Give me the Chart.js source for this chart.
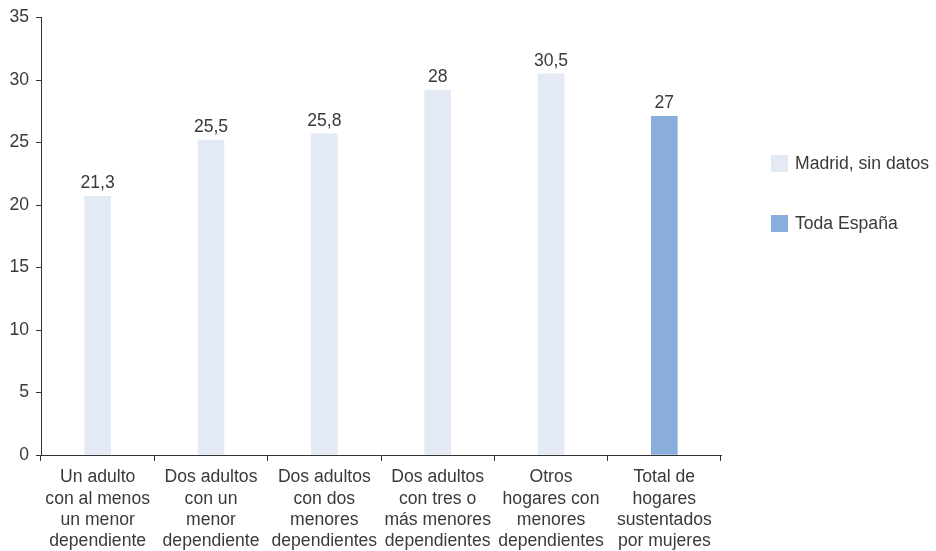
<!DOCTYPE html>
<html>
<head>
<meta charset="utf-8">
<script src="https://cdn.jsdelivr.net/npm/chart.js@4"></script>
<style>
  html, body { margin: 0; padding: 0; background: #fff; }
  #wrap { width: 936px; height: 551px; position: relative; }
</style>
</head>
<body>
<div id="wrap"><canvas id="chart"></canvas></div>
<script>
const categories = [
  ['Un adulto', 'con al menos', 'un menor', 'dependiente'],
  ['Dos adultos', 'con un', 'menor', 'dependiente'],
  ['Dos adultos', 'con dos', 'menores', 'dependientes'],
  ['Dos adultos', 'con tres o', 'más menores', 'dependientes'],
  ['Otros', 'hogares con', 'menores', 'dependientes'],
  ['Total de', 'hogares', 'sustentados', 'por mujeres'],
];

// bar heights as drawn in the picture
const madridValues = [20.7, 25.2, 25.7, 29.2, 30.5, null];
const espanaValues = [null, null, null, null, null, 27.1];

// value labels printed above the bars
const valueLabels = ['21,3', '25,5', '25,8', '28', '30,5', '27'];

const legendNames = ['Madrid, sin datos', 'Toda España'];
const colors = ['#e3e9f5', '#8aaedc'];

const textColor = '#3a3a3a';
const fontFamily = '"Liberation Sans", Arial, sans-serif';
const fontSize = 17.6;

const valueLabelPlugin = {
  id: 'valueLabels',
  afterDatasetsDraw(chart) {
    const ctx = chart.ctx;
    ctx.save();
    ctx.fillStyle = textColor;
    ctx.font = `${fontSize}px ${fontFamily}`;
    ctx.textAlign = 'center';
    ctx.textBaseline = 'alphabetic';
    chart.data.datasets.forEach((ds, di) => {
      const meta = chart.getDatasetMeta(di);
      meta.data.forEach((bar, i) => {
        if (ds.data[i] == null) return;
        ctx.fillText(valueLabels[i], bar.x, bar.y - 8);
      });
    });
    ctx.restore();
  },
};

const sideLegendPlugin = {
  id: 'sideLegend',
  afterDraw(chart) {
    const ctx = chart.ctx;
    ctx.save();
    ctx.font = `${fontSize}px ${fontFamily}`;
    ctx.textBaseline = 'middle';
    ctx.textAlign = 'left';
    legendNames.forEach((name, i) => {
      const y = 155 + i * 60;
      ctx.fillStyle = colors[i];
      ctx.fillRect(771, y, 17, 17);
      ctx.fillStyle = textColor;
      ctx.fillText(name, 795, y + 9);
    });
    ctx.restore();
  },
};

new Chart(document.getElementById('chart'), {
  type: 'bar',
  data: {
    labels: categories,
    datasets: [
      {
        label: legendNames[0],
        data: madridValues,
        backgroundColor: colors[0],
        barThickness: 26,
      },
      {
        label: legendNames[1],
        data: espanaValues,
        backgroundColor: colors[1],
        barThickness: 26,
      },
    ],
  },
  options: {
    responsive: true,
    maintainAspectRatio: false,
    animation: false,
    layout: {
      padding: { top: 16, right: 215, left: 0, bottom: 0 },
    },
    datasets: {
      bar: { grouped: false },
    },
    plugins: {
      legend: { display: false },
      tooltip: { enabled: false },
    },
    scales: {
      x: {
        grid: {
          offset: true,
          drawOnChartArea: false,
          drawTicks: true,
          tickLength: 6,
          color: '#333',
        },
        border: { color: '#333', width: 1 },
        ticks: {
          color: textColor,
          font: { family: fontFamily, size: fontSize, lineHeight: 1.2 },
          padding: 6,
          maxRotation: 0,
          autoSkip: false,
        },
        afterFit(scale) {
          scale.height = 96;
        },
      },
      y: {
        min: 0,
        max: 35,
        grid: {
          drawOnChartArea: false,
          drawTicks: true,
          tickLength: 5,
          color: '#333',
        },
        border: { color: '#333', width: 1 },
        ticks: {
          stepSize: 5,
          color: textColor,
          font: { family: fontFamily, size: fontSize },
          padding: 7,
        },
        afterFit(scale) {
          scale.width = 41;
        },
      },
    },
  },
  plugins: [valueLabelPlugin, sideLegendPlugin],
});
</script>
</body>
</html>
